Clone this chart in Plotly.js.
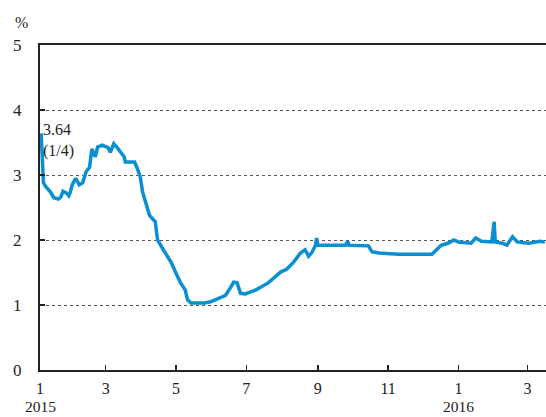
<!DOCTYPE html>
<html>
<head>
<meta charset="utf-8">
<script src="https://cdn.plot.ly/plotly-3.0.1.min.js"></script>
<style>
  html, body { margin: 0; padding: 0; background: #fff; }
  #chart { width: 546px; height: 417px; }
</style>
</head>
<body>
<div id="chart"></div>
<script>
const dates = [
    "2015-01-04", "2015-01-06", "2015-01-08", "2015-01-12", "2015-01-15", "2015-01-19",
    "2015-01-21", "2015-01-23", "2015-01-26", "2015-01-28", "2015-01-29", "2015-01-31",
    "2015-02-03", "2015-02-06", "2015-02-09", "2015-02-12", "2015-02-15", "2015-02-17",
    "2015-02-20", "2015-02-22", "2015-02-26", "2015-03-03", "2015-03-05", "2015-03-08",
    "2015-03-11", "2015-03-14", "2015-03-17", "2015-03-18", "2015-03-26", "2015-03-28",
    "2015-03-31", "2015-04-02", "2015-04-05", "2015-04-08", "2015-04-13", "2015-04-14",
    "2015-04-15", "2015-04-20", "2015-04-24", "2015-04-27", "2015-05-01", "2015-05-05",
    "2015-05-09", "2015-05-11", "2015-05-14", "2015-05-20", "2015-05-26", "2015-05-31",
    "2015-06-09", "2015-06-13", "2015-06-17", "2015-06-20", "2015-06-23", "2015-06-26",
    "2015-06-30", "2015-07-09", "2015-07-20", "2015-07-26", "2015-07-31", "2015-08-05",
    "2015-08-11", "2015-08-17", "2015-08-21", "2015-08-24", "2015-08-27", "2015-08-30",
    "2015-08-31", "2015-09-01", "2015-09-04", "2015-09-25", "2015-09-27", "2015-09-28",
    "2015-10-15", "2015-10-18", "2015-10-24", "2015-11-10", "2015-12-09", "2015-12-13",
    "2015-12-17", "2015-12-23", "2015-12-28", "2016-01-01", "2016-01-12", "2016-01-16",
    "2016-01-21", "2016-01-30", "2016-02-01", "2016-02-02", "2016-02-08", "2016-02-12",
    "2016-02-17", "2016-02-21", "2016-03-02", "2016-03-12", "2016-03-16"
];
const rates = [
    3.64, 2.88, 2.82, 2.74, 2.65, 2.63,
    2.66, 2.75, 2.72, 2.68, 2.72, 2.85,
    2.95, 2.85, 2.88, 3.05, 3.12, 3.40,
    3.28, 3.43, 3.46, 3.42, 3.35, 3.48,
    3.42, 3.35, 3.28, 3.20, 3.20, 3.12,
    2.97, 2.74, 2.54, 2.38, 2.28, 2.15,
    2.00, 1.85, 1.74, 1.65, 1.49, 1.34,
    1.23, 1.08, 1.03, 1.03, 1.03, 1.05,
    1.11, 1.15, 1.26, 1.35, 1.34, 1.18,
    1.17, 1.23, 1.34, 1.43, 1.51, 1.55,
    1.66, 1.80, 1.85, 1.75, 1.81, 1.92,
    2.03, 1.92, 1.92, 1.92, 1.98, 1.92,
    1.91, 1.82, 1.80, 1.78, 1.78, 1.86,
    1.92, 1.95, 2.00, 1.97, 1.95, 2.03,
    1.98, 1.97, 2.28, 1.97, 1.95, 1.92,
    2.05, 1.97, 1.95, 1.98, 1.97
];

// first tick sits on the axis start, the rest on the 1st of odd months
const tickDates = ["2015-01-03", "2015-03-01", "2015-05-01", "2015-07-01", "2015-09-01",
    "2015-11-01", "2016-01-01", "2016-03-01"];
const tickLabels = ["1", "3", "5", "7", "9", "11", "1", "3"];
const yearDates = ["2015-01-03", "2016-01-01"];
const yearLabels = ["2015", "2016"];

const serif = "Times New Roman, Liberation Serif, DejaVu Serif, serif";

const trace = {
    x: dates,
    y: rates,
    type: "scatter",
    mode: "lines",
    line: { color: "#0a8fd3", width: 3.5 },
    hoverinfo: "skip"
};

const yearNotes = yearLabels.map((t, i) => ({
    text: t,
    xref: "x", yref: "paper",
    x: yearDates[i], y: -0.113,
    xanchor: "center", yanchor: "middle",
    borderpad: 0,
    showarrow: false,
    font: { family: serif, size: 15.5, color: "#222" }
}));

const layout = {
    width: 546,
    height: 417,
    margin: { t: 45, r: 0, b: 47, l: 40 },
    paper_bgcolor: "#fff",
    plot_bgcolor: "#fff",
    showlegend: false,
    font: { family: serif, size: 17, color: "#222" },
    xaxis: {
        type: "date",
        range: ["2015-01-03", "2016-03-17"],
        tickvals: tickDates,
        ticktext: tickLabels,
        ticks: "inside",
        ticklen: 5,
        tickcolor: "#222",
        tickwidth: 1.5,
        showgrid: false,
        zeroline: false,
        showline: true,
        linecolor: "#222",
        linewidth: 2,
        mirror: true,
        ticklabelstandoff: 3,
        tickfont: { family: serif, size: 16, color: "#222" }
    },
    yaxis: {
        range: [0, 5],
        tickvals: [0, 1, 2, 3, 4, 5],
        ticks: "inside",
        ticklen: 5,
        tickcolor: "#222",
        tickwidth: 1.5,
        showgrid: true,
        gridcolor: "#555",
        gridwidth: 1,
        griddash: "3px,3px",
        zeroline: false,
        showline: true,
        linecolor: "#222",
        linewidth: 2,
        ticklabelstandoff: 13,
        tickfont: { family: serif, size: 17, color: "#222" }
    },
    annotations: [
        {
            text: "%",
            xref: "paper", yref: "paper",
            x: -0.0375, y: 1.069,
            xanchor: "center", yanchor: "middle",
            showarrow: false,
            font: { family: serif, size: 16, color: "#222" }
        },
        {
            text: "3.64<br>(1/4)",
            xref: "x", yref: "y",
            x: dates[0], y: rates[0],
            xanchor: "left", yanchor: "middle",
            xshift: 0, yshift: -7,
            align: "left",
            showarrow: false,
            font: { family: serif, size: 16, color: "#222" }
        }
    ].concat(yearNotes)
};

Plotly.newPlot("chart", [trace], layout, { staticPlot: true });
</script>
</body>
</html>
